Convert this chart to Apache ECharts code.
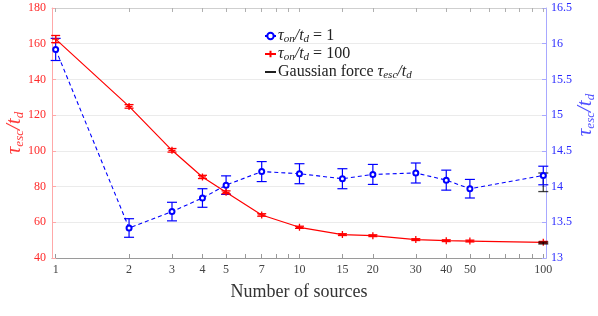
<!DOCTYPE html>
<html><head><meta charset="utf-8">
<script src="https://cdn.jsdelivr.net/npm/echarts@6/dist/echarts.min.js"></script>
<style>html,body{margin:0;padding:0;background:#fff}#c{width:598px;height:316px}</style>
</head><body><div id="c"></div>
<script>
// ---- data ----
const sources = [1, 2, 3, 4, 5, 7, 10, 15, 20, 30, 40, 50, 100];
const xTickLabels = [1, 2, 3, 4, 5, 7, 10, 15, 20, 30, 40, 50, 100];
const xTickMarks = [1, 2, 3, 4, 5, 6, 7, 8, 9, 10, 15, 20, 30, 40, 50, 60, 70, 80, 90, 100];
const red100 = [162.6, 124.9, 100.3, 85.4, 76.8, 64.1, 57.2, 53.1, 52.5, 50.3, 49.7, 49.5, 48.8];
const red100Err = [2.0, 1.0, 1.0, 0.9, 0.8, 0.7, 0.6, 0.5, 0.5, 0.5, 0.5, 0.5, 0.5];
const blue1 = [15.92, 13.42, 13.65, 13.84, 14.02, 14.21, 14.18, 14.11, 14.17, 14.19, 14.09, 13.97, 14.155];
const blue1Err = [0.155, 0.13, 0.13, 0.13, 0.13, 0.14, 0.14, 0.14, 0.14, 0.14, 0.14, 0.13, 0.13];
const gaussX = [100];
const gaussLeft = [48.4];
const gaussLeftErr = [0.5];
const gaussRight = [14.06];
const gaussRightErr = [0.13];
const leftAxis = {min: 40, max: 180, step: 20};
const rightAxis = {min: 13, max: 16.5, step: 0.5};

const serif = 'Liberation Serif';
const RED = '#ff0000', BLUE = '#0000ff';

function errBar(color, halfW, lw) {
  return function (params, api) {
    const x = api.value(0), lo = api.value(1), hi = api.value(2);
    const a = api.coord([x, lo]), b = api.coord([x, hi]);
    const s = {stroke: color, lineWidth: lw};
    return {type: 'group', children: [
      {type: 'line', shape: {x1: a[0], y1: a[1], x2: b[0], y2: b[1]}, style: s},
      {type: 'line', shape: {x1: a[0] - halfW, y1: a[1], x2: a[0] + halfW, y2: a[1]}, style: s},
      {type: 'line', shape: {x1: b[0] - halfW, y1: b[1], x2: b[0] + halfW, y2: b[1]}, style: s}
    ]};
  };
}
function errData(xs, ys, es) { return xs.map((x, i) => [x, ys[i] - es[i], ys[i] + es[i]]); }

function richFor(color, main, sub) {
  return {
    i: {fontFamily: serif, fontStyle: 'italic', fontSize: main, color: color, lineHeight: main + 2},
    s: {fontFamily: serif, fontStyle: 'italic', fontSize: sub, color: color, lineHeight: sub, verticalAlign: 'bottom'},
    n: {fontFamily: serif, fontSize: main, color: color, lineHeight: main + 2}
  };
}

const names = {
  b: 'τon/td = 1',
  r: 'τon/td = 100',
  g: 'Gaussian force τesc/td'
};
const legendRich = {
  b: '{i|τ}{s|on}{i|/t}{s|d}{n| = 1}',
  r: '{i|τ}{s|on}{i|/t}{s|d}{n| = 100}',
  g: '{n|Gaussian force }{i|τ}{s|esc}{i|/t}{s|d}'
};

const xBase = {
  type: 'log', logBase: 10, min: 0.966, max: 102.6,
  splitLine: {show: false}, minorTick: {show: false}
};

const chart = echarts.init(document.getElementById('c'));
chart.setOption({
  animation: false,
  backgroundColor: '#fff',
  grid: {left: 52, right: 52, top: 8, bottom: 58, containLabel: false, outerBoundsMode: 'none'},
  legend: {
    orient: 'vertical', left: 259, top: 23, itemGap: 1, itemWidth: 11, itemHeight: 8,
    data: [
      {name: names.b},
      {name: names.r},
      {name: names.g, icon: 'path://M0,0H10V1.6H0Z', itemStyle: {color: '#000'}}
    ],
    formatter: function (n) {
      if (n === names.b) return legendRich.b;
      if (n === names.r) return legendRich.r;
      return legendRich.g;
    },
    textStyle: {color: '#222', padding: [0, 0, 0, -3], rich: richFor('#222', 16, 11)}
  },
  xAxis: [
    Object.assign({}, xBase, {
      position: 'bottom',
      name: 'Number of sources', nameLocation: 'middle', nameGap: 25, nameMoveOverlap: false,
      nameTextStyle: {fontFamily: serif, fontSize: 18, color: '#333'},
      axisLine: {show: true, lineStyle: {color: '#9a9a9a', width: 1}},
      axisTick: {show: true, inside: true, length: 4, lineStyle: {color: '#9a9a9a'}, customValues: xTickMarks},
      axisLabel: {show: true, fontFamily: serif, fontSize: 12, color: '#444', margin: 6, customValues: xTickLabels, formatter: v => String(v)}
    }),
    Object.assign({}, xBase, {
      position: 'top',
      axisLine: {show: true, lineStyle: {color: '#cfcfcf', width: 1}},
      axisTick: {show: true, inside: true, length: 4, lineStyle: {color: '#b0b0b0'}, customValues: xTickMarks},
      axisLabel: {show: false}
    })
  ],
  yAxis: [
    {
      type: 'value', position: 'left', min: leftAxis.min, max: leftAxis.max, interval: leftAxis.step,
      name: '{i|τ}{s|esc}{i|/t}{s|d}', nameLocation: 'middle', nameRotate: 90, nameGap: 26, nameMoveOverlap: false,
      nameTextStyle: {color: '#ff3a3a', rich: richFor('#ff3a3a', 21, 13)},
      axisLine: {show: true, lineStyle: {color: '#ffa8a8'}},
      axisTick: {show: true, inside: true, length: 4, lineStyle: {color: '#ffa8a8'}},
      axisLabel: {fontFamily: serif, fontSize: 12, color: '#ff2a2a', margin: 6},
      splitLine: {show: true, lineStyle: {color: '#ebebeb', width: 1}}
    },
    {
      type: 'value', position: 'right', min: rightAxis.min, max: rightAxis.max, interval: rightAxis.step,
      name: '{i|τ}{s|esc}{i|/t}{s|d}', nameLocation: 'middle', nameRotate: 90, nameGap: 28, nameMoveOverlap: false,
      nameTextStyle: {color: '#5050ff', padding: [0, 0, 0, 36], rich: richFor('#5050ff', 21, 13)},
      axisLine: {show: true, lineStyle: {color: '#a8a8ff'}},
      axisTick: {show: true, inside: true, length: 4, lineStyle: {color: '#a8a8ff'}},
      axisLabel: {fontFamily: serif, fontSize: 12, color: '#2a2aff', margin: 5},
      splitLine: {show: false}
    }
  ],
  series: [
    {
      name: names.b, type: 'line', xAxisIndex: 0, yAxisIndex: 1,
      data: sources.map((x, i) => [x, blue1[i]]),
      symbol: 'emptyCircle', symbolSize: 5,
      itemStyle: {color: BLUE, borderColor: BLUE, borderWidth: 1.2},
      lineStyle: {color: BLUE, width: 1.1, type: [4, 3]}, z: 3
    },
    {
      type: 'custom', xAxisIndex: 0, yAxisIndex: 1,
      renderItem: errBar(BLUE, 5, 1.2), data: errData(sources, blue1, blue1Err), z: 3
    },
    {
      name: names.r, type: 'line', xAxisIndex: 0, yAxisIndex: 0,
      data: sources.map((x, i) => [x, red100[i]]),
      symbol: 'path://M0,5L10,5M5,0L5,10', symbolSize: 7,
      itemStyle: {color: RED, borderColor: RED, borderWidth: 1.3},
      lineStyle: {color: RED, width: 1.2}, z: 4
    },
    {
      type: 'custom', xAxisIndex: 0, yAxisIndex: 0,
      renderItem: errBar(RED, 4.5, 1.3), data: errData(sources, red100, red100Err), z: 4
    },
    {
      name: names.g, type: 'line', xAxisIndex: 0, yAxisIndex: 0, data: [],
      symbol: 'none', lineStyle: {color: '#000', width: 1.5}, itemStyle: {color: '#000'}
    },
    {
      type: 'custom', xAxisIndex: 0, yAxisIndex: 0,
      renderItem: errBar('rgba(0,0,0,0.75)', 5, 1.5), data: errData(gaussX, gaussLeft, gaussLeftErr), z: 5
    },
    {
      type: 'custom', xAxisIndex: 0, yAxisIndex: 1,
      renderItem: errBar('rgba(0,0,0,0.75)', 5, 1.3), data: errData(gaussX, gaussRight, gaussRightErr), z: 2
    }
  ]
});
</script></body></html>
